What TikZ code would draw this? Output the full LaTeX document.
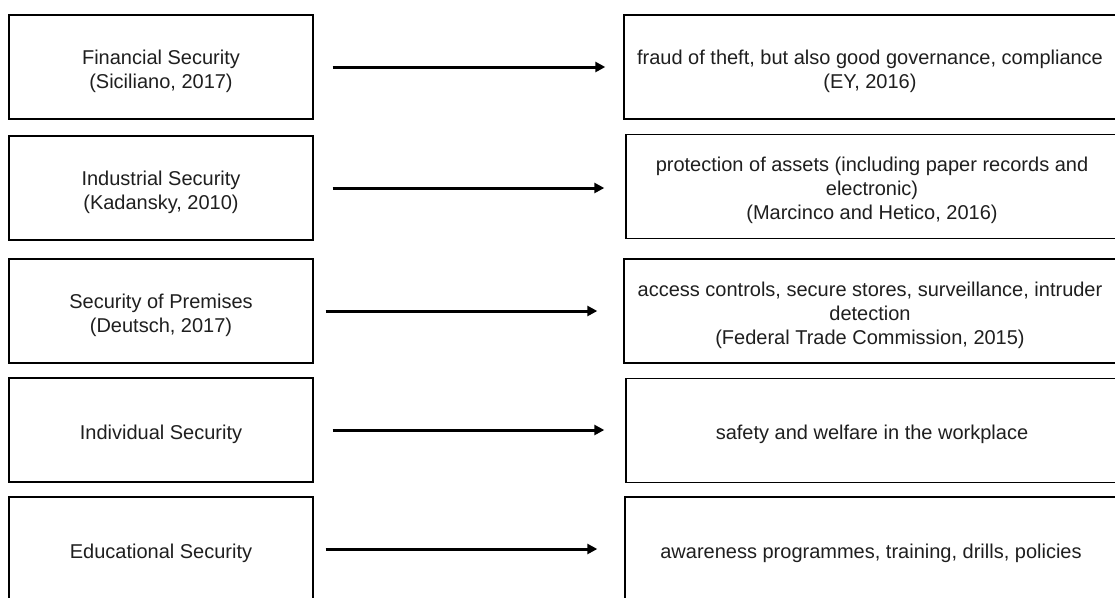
\documentclass[tikz,border=0pt]{standalone}
\usepackage{fontspec}
\setmainfont{Liberation Sans}
\usetikzlibrary{arrows.meta}
\begin{document}
\begin{tikzpicture}[x=1pt,y=-1pt,
  box/.style={draw=black, line width=1.4pt, fill=white, inner sep=0pt},
  lbox/.style={box, minimum width=304pt, minimum height=104pt},
  rbox/.style={box, minimum width=492pt, minimum height=104pt},
  txt/.style={align=center, inner sep=0pt, yshift=-4pt,
    font=\fontsize{20}{24}\selectfont, text=black!88},
  arr/.style={line width=3pt, -{Triangle[length=10pt,width=10pt]}}]
\useasboundingbox (0,0) rectangle (1115,597);
\clip (0,0) rectangle (1115,597);
\fill[white] (0,0) rectangle (1115,597);

% left column: kinds of security
\node[lbox] (L1) at (161,67)  {};
\node[lbox] (L2) at (161,188) {};
\node[lbox] (L3) at (161,311) {};
\node[lbox] (L4) at (161,430) {};
\node[lbox] (L5) at (161,549) {};
\node[txt] (L1t) at (L1.center) {Financial Security\\(Siciliano, 2017)};
\node[txt] (L2t) at (L2.center) {Industrial Security\\(Kadansky, 2010)};
\node[txt] (L3t) at (L3.center) {Security of Premises\\(Deutsch, 2017)};
\node[txt] (L4t) at (L4.center) {Individual Security};
\node[txt] (L5t) at (L5.center) {Educational Security};

% right column: what each one covers
\node[rbox] (R1) at (870,67)    {};
\node[rbox] (R2) at (872,186.5) {};
\node[rbox] (R3) at (870,311)   {};
\node[rbox] (R4) at (872,430.5) {};
\node[rbox] (R5) at (871,549)   {};
\node[txt] (R1t) at (R1.center) {fraud of theft, but also good governance, compliance\\(EY, 2016)};
\node[txt] (R2t) at (R2.center) {protection of assets (including paper records and\\electronic)\\(Marcinco and Hetico, 2016)};
\node[txt] (R3t) at (R3.center) {access controls, secure stores, surveillance, intruder\\detection\\(Federal Trade Commission, 2015)};
\node[txt] (R4t) at (R4.center) {safety and welfare in the workplace};
\node[txt] (R5t) at (R5.center) {awareness programmes, training, drills, policies};

% connectors
\draw[arr, shorten <=19pt, shorten >=18pt] (L1.east) -- (L1.east -| R1.west);
\draw[arr, shorten <=19pt, shorten >=21pt] (L2.east) -- (L2.east -| R2.west);
\draw[arr, shorten <=12pt, shorten >=26pt] (L3.east) -- (L3.east -| R3.west);
\draw[arr, shorten <=19pt, shorten >=21pt] (L4.east) -- (L4.east -| R4.west);
\draw[arr, shorten <=12pt, shorten >=27pt] (L5.east) -- (L5.east -| R5.west);
\end{tikzpicture}
\end{document}
